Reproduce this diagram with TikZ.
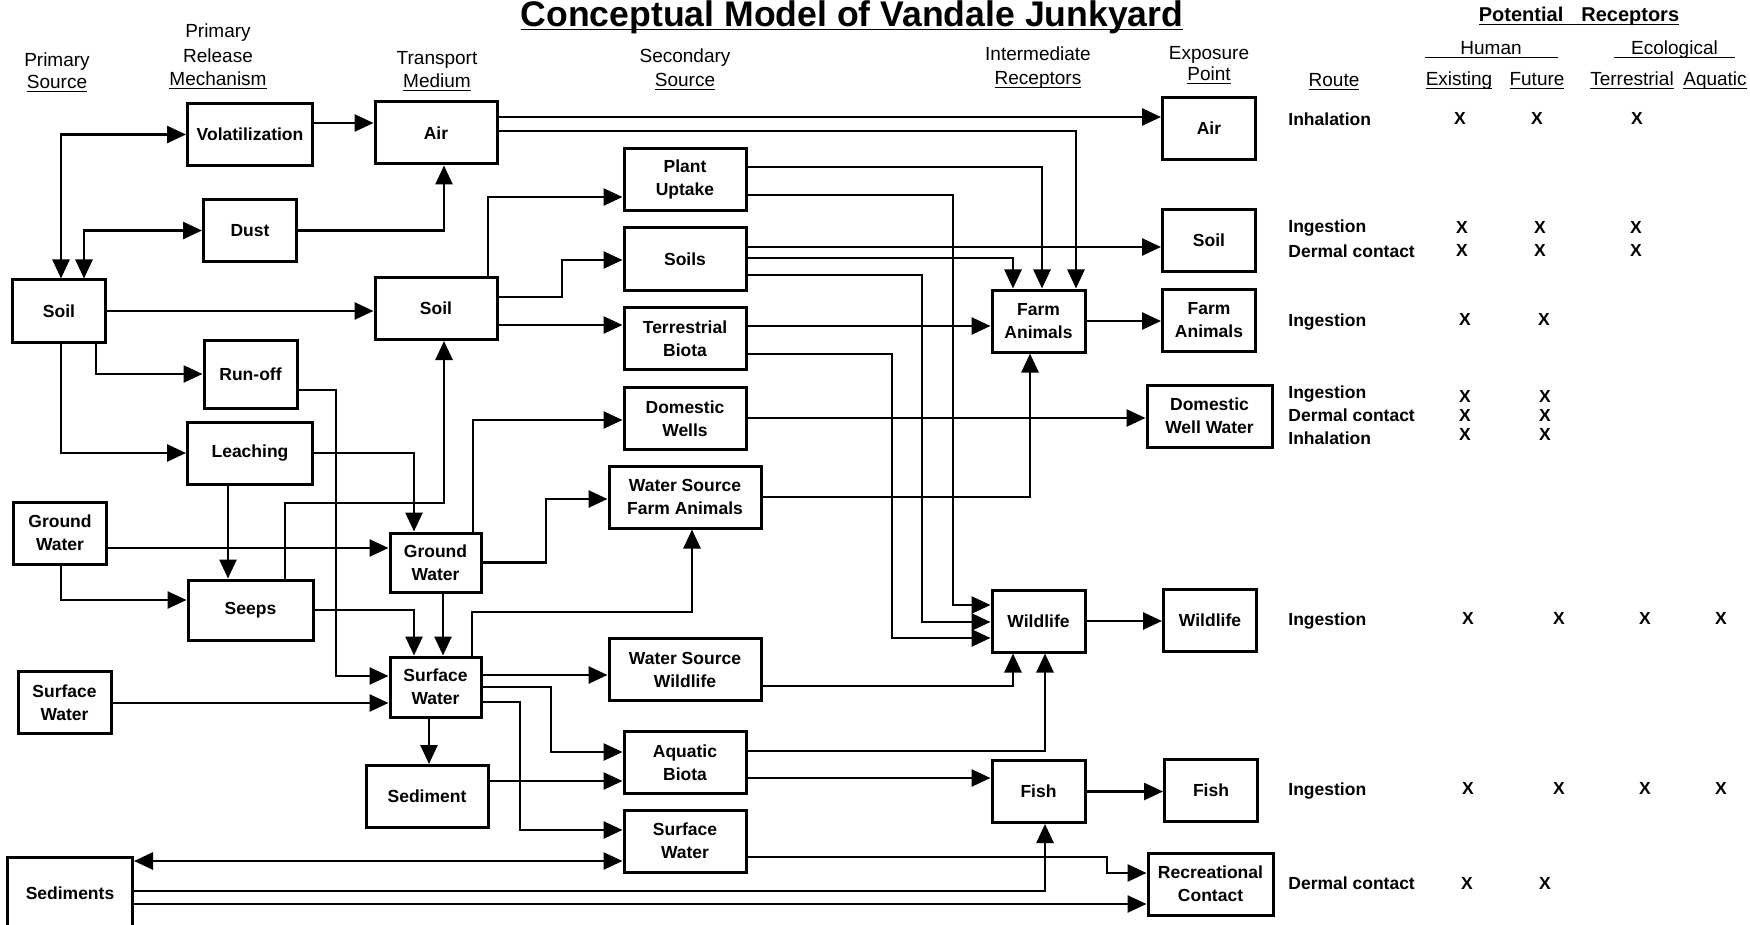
\documentclass[tikz,border=0pt]{standalone}
\usepackage{fontspec}
\setmainfont{Liberation Sans}
\usetikzlibrary{arrows.meta}
\newcommand{\boxfnt}{\fontsize{8.75}{11.5}\selectfont\bfseries}
\newcommand{\headfnt}{\fontsize{9.5}{11.5}\selectfont}
\newcommand{\ulin}[1]{\underline{\smash{#1}}}

\begin{document}
\begin{tikzpicture}[x=0.5pt,y=-0.5pt,
		box/.style={draw,line width=1.5pt,align=center,inner sep=1pt,font=\boxfnt},
		sbox/.style={box,minimum width=46.5pt,minimum height=31pt},
		mbox/.style={box,minimum width=61pt,minimum height=31pt},
		wbox/.style={box,minimum width=62.5pt,minimum height=31pt},
		lbox/.style={box,minimum width=76pt,minimum height=31pt},
		head/.style={anchor=base,inner sep=0pt,font=\headfnt},
		route/.style={anchor=base west,inner sep=0pt,font=\boxfnt},
		xmark/.style={inner sep=0pt,font=\boxfnt},
		arr/.style={line width=1.3pt,-{Triangle[length=9.5pt,width=8.5pt]}},
		dbl/.style={line width=1.3pt,{Triangle[length=9.5pt,width=8.5pt]}-{Triangle[length=9.5pt,width=8.5pt]}}]
		\useasboundingbox (0,0) rectangle (1750,925);
		
		% Title
		\node[anchor=base,inner sep=0pt,font=\fontsize{17.8}{20}\selectfont\bfseries] (title) at (852,27) {\ulin{Conceptual Model of Vandale Junkyard}};
		
		% Column heads
		\node[head] (hpa) at (57,67) {Primary};
		\node[head] (hpb) at (57,89) {\ulin{Source}};
		\node[head] (hra) at (218,38) {Primary};
		\node[head] (hrb) at (218,63) {Release};
		\node[head] (hrc) at (218,86) {\ulin{Mechanism}};
		\node[head] (hta) at (437,65) {Transport};
		\node[head] (htb) at (437,88) {\ulin{Medium}};
		\node[head] (hsa) at (685,63) {Secondary};
		\node[head] (hsb) at (685,87) {\ulin{Source}};
		\node[head] (hia) at (1038,61) {Intermediate};
		\node[head] (hib) at (1038,85) {\ulin{Receptors}};
		\node[head] (hea) at (1209,60) {Exposure};
		\node[head] (heb) at (1209,81) {\ulin{Point}};
		\node[head] (hroute) at (1334,87) {\ulin{Route}};
		\node[head,font=\fontsize{10}{12}\selectfont\bfseries] (hpot) at (1579,22) {\ulin{Potential\hspace{0.9em}Receptors}};
		\node[head] (hhum) at (1491,55) {\ulin{\makebox[66.5pt]{Human}}};
		\node[head] (heco) at (1674.5,55) {\ulin{\makebox[60.5pt]{Ecological}}};
		\node[head] (hexi) at (1459,86) {\ulin{Existing}};
		\node[head] (hfut) at (1537,86) {\ulin{Future}};
		\node[head] (hter) at (1632,86) {\ulin{Terrestrial}};
		\node[head] (haqu) at (1715,86) {\ulin{Aquatic}};
		
		% Primary sources
		\node[sbox] (soil1) at (59,311) {Soil};
		\node[sbox] (gw1) at (60,533) {Ground\\Water};
		\node[sbox] (sw1) at (64.5,702.5) {Surface\\Water};
		\node[wbox,minimum height=36pt] (sedi) at (70,893) {Sediments};
		
		% Release mechanisms
		\node[wbox] (vol) at (250,134.5) {Volatilization};
		\node[sbox] (dust) at (250,230.5) {Dust};
		\node[sbox,minimum height=34pt] (runoff) at (250.5,374) {Run-off};
		\node[wbox] (leach) at (250,453) {Leaching};
		\node[wbox,minimum height=30pt] (seeps) at (250.5,610) {Seeps};
		
		% Transport media
		\node[mbox] (airT) at (436,133) {Air};
		\node[mbox] (soilT) at (436,308.5) {Soil};
		\node[sbox,minimum width=45.5pt,minimum height=29.5pt] (gwT) at (435.5,562.5) {Ground\\Water};
		\node[sbox,minimum width=45.5pt,minimum height=30pt] (swT) at (435.5,687) {Surface\\Water};
		\node[mbox] (sed) at (427,796.5) {Sediment};
		
		% Secondary sources
		\node[mbox] (plant) at (685,179.5) {Plant\\Uptake};
		\node[mbox] (soils) at (685,259) {Soils};
		\node[mbox] (tb) at (685,338.5) {Terrestrial\\Biota};
		\node[mbox] (dw) at (685,418.5) {Domestic\\Wells};
		\node[lbox] (wsfa) at (685,497) {Water Source\\Farm Animals};
		\node[lbox] (wsw) at (685,669.5) {Water Source\\Wildlife};
		\node[mbox] (ab) at (685,762.5) {Aquatic\\Biota};
		\node[mbox] (sws) at (685,841) {Surface\\Water};
		
		% Intermediate receptors
		\node[sbox] (farm) at (1038.5,321) {Farm\\Animals};
		\node[sbox] (wild) at (1038.5,621) {Wildlife};
		\node[sbox] (fish) at (1038.5,791.5) {Fish};
		
		% Exposure points
		\node[sbox] (airX) at (1209,128.5) {Air};
		\node[sbox] (soilX) at (1209,240.5) {Soil};
		\node[sbox] (farmX) at (1209,320.5) {Farm\\Animals};
		\node[wbox] (dww) at (1209.5,416) {Domestic\\Well Water};
		\node[sbox] (wildX) at (1210,620) {Wildlife};
		\node[sbox] (fishX) at (1211,790.5) {Fish};
		\node[wbox] (rec) at (1210.5,884) {Recreational\\Contact};
		
		% Connectors, left part
		\draw[dbl] (soil1.north -| 61,0) |- (vol.west);
		\draw[dbl] (soil1.north -| 84,0) |- (dust.west);
		\draw[arr] (vol.east |- 0,123) -- (airT.west |- 0,123);
		\draw[arr] (dust.east) -| (airT.south -| 444,0);
		\draw[arr] (soil1.east) -- (soil1.east -| soilT.west);
		\draw[arr] (soil1.south -| 96,0) |- (runoff.west);
		\draw[arr] (soil1.south -| 61,0) |- (leach.west);
		\draw[arr] (gw1.east |- 0,548) -- (gwT.west |- 0,548);
		\draw[arr] (gw1.south -| 61,0) |- (seeps.west |- 0,600);
		\draw[arr] (leach.south -| 228,0) -- (seeps.north -| 228,0);
		\draw[arr] (leach.east) -| (gwT.north -| 414,0);
		\draw[arr] (seeps.north -| 285,0) -- (285,503) -| (soilT.south -| 444,0);
		\draw[arr] (runoff.east |- 0,390) -| (336,676) -- (swT.west |- 0,676);
		\draw[arr] (seeps.east) -| (swT.north -| 414,0);
		\draw[arr] (gwT.south -| 443,0) -- (swT.north -| 443,0);
		\draw[arr] (sw1.east |- 0,703) -- (swT.west |- 0,703);
		\draw[arr] (swT.south -| 429,0) -- (sed.north -| 429,0);
		
		% Connectors, middle part
		\draw[arr] (soilT.north -| 488,0) |- (plant.west |- 0,197);
		\draw[arr] (soilT.east |- 0,297) -| (562,260) -- (soils.west |- 0,260);
		\draw[arr] (soilT.east |- 0,325) -- (tb.west |- 0,325);
		\draw[arr] (gwT.north -| 473,0) |- (dw.west |- 0,420);
		\draw[arr] (gwT.east) -| (546,499) -- (wsfa.west |- 0,499);
		\draw[arr] (swT.north -| 472,0) -- (472,612) -| (wsfa.south -| 692,0);
		\draw[arr] (swT.east |- 0,675) -- (wsw.west |- 0,675);
		\draw[arr] (swT.east |- 0,687) -| (551,752) -- (ab.west |- 0,752);
		\draw[arr] (swT.east |- 0,702) -| (520,830) -- (sws.west |- 0,830);
		\draw[arr] (sed.east |- 0,781) -- (ab.west |- 0,781);
		\draw[dbl] (sedi.east |- 0,861) -- (sws.west |- 0,861);
		\draw[arr] (sedi.east |- 0,891) -| (fish.south -| 1045,0);
		\draw[arr] (sedi.east |- 0,904) -- (rec.west |- 0,904);
		
		% Connectors, right part
		\draw[arr] (airT.east |- 0,117) -- (airX.west |- 0,117);
		\draw[arr] (airT.east |- 0,131) -| (farm.north -| 1076,0);
		\draw[arr] (plant.east |- 0,167) -| (farm.north -| 1042,0);
		\draw[arr] (plant.east |- 0,195) -| (953,605) -- (wild.west |- 0,605);
		\draw[arr] (soils.east |- 0,247) -- (soilX.west |- 0,247);
		\draw[arr] (soils.east |- 0,258) -| (farm.north -| 1013,0);
		\draw[arr] (soils.east |- 0,275) -| (922,622) -- (wild.west |- 0,622);
		\draw[arr] (tb.east |- 0,326) -- (farm.west |- 0,326);
		\draw[arr] (tb.east |- 0,354) -| (892,638) -- (wild.west |- 0,638);
		\draw[arr] (dw.east |- 0,418) -- (dww.west |- 0,418);
		\draw[arr] (wsfa.east |- 0,497) -| (farm.south -| 1030,0);
		\draw[arr] (wsw.east |- 0,686) -| (wild.south -| 1013,0);
		\draw[arr] (ab.east |- 0,751) -| (wild.south -| 1045,0);
		\draw[arr] (ab.east |- 0,778) -- (fish.west |- 0,778);
		\draw[arr] (sws.east |- 0,857) -| (1107,873) -- (rec.west |- 0,873);
		\draw[arr] (farm.east) -- (farm.east -| farmX.west);
		\draw[arr] (wild.east) -- (wild.east -| wildX.west);
		\draw[arr] (fish.east) -- (fish.east -| fishX.west);
		
		% Routes
		\node[route] (rair) at (1288,126) {Inhalation};
		\node[route] (rsoila) at (1288,233) {Ingestion};
		\node[route] (rsoilb) at (1288,257) {Dermal contact};
		\node[route] (rfarm) at (1288,326) {Ingestion};
		\node[route] (rdwa) at (1288,398) {Ingestion};
		\node[route] (rdwb) at (1288,421) {Dermal contact};
		\node[route] (rdwc) at (1288,444) {Inhalation};
		\node[route] (rwild) at (1288,625) {Ingestion};
		\node[route] (rfish) at (1288,795) {Ingestion};
		\node[route] (rrec) at (1288,889) {Dermal contact};
		
		% Receptor marks
		\node[xmark] (xaira) at (1460,118) {X};
		\node[xmark] (xairb) at (1537,118) {X};
		\node[xmark] (xairc) at (1637,118) {X};
		\node[xmark] (xsoila) at (1462,227) {X};
		\node[xmark] (xsoilb) at (1540,227) {X};
		\node[xmark] (xsoilc) at (1636,227) {X};
		\node[xmark] (xsoild) at (1462,250) {X};
		\node[xmark] (xsoile) at (1540,250) {X};
		\node[xmark] (xsoilf) at (1636,250) {X};
		\node[xmark] (xfarma) at (1465,319) {X};
		\node[xmark] (xfarmb) at (1544,319) {X};
		\node[xmark] (xdwa) at (1465,396) {X};
		\node[xmark] (xdwb) at (1545,396) {X};
		\node[xmark] (xdwc) at (1465,415) {X};
		\node[xmark] (xdwd) at (1545,415) {X};
		\node[xmark] (xdwe) at (1465,434) {X};
		\node[xmark] (xdwf) at (1545,434) {X};
		\node[xmark] (xwilda) at (1468,618) {X};
		\node[xmark] (xwildb) at (1559,618) {X};
		\node[xmark] (xwildc) at (1645,618) {X};
		\node[xmark] (xwildd) at (1721,618) {X};
		\node[xmark] (xfisha) at (1468,788) {X};
		\node[xmark] (xfishb) at (1559,788) {X};
		\node[xmark] (xfishc) at (1645,788) {X};
		\node[xmark] (xfishd) at (1721,788) {X};
		\node[xmark] (xreca) at (1467,883) {X};
		\node[xmark] (xrecb) at (1545,883) {X};
\end{tikzpicture}
\end{document}
